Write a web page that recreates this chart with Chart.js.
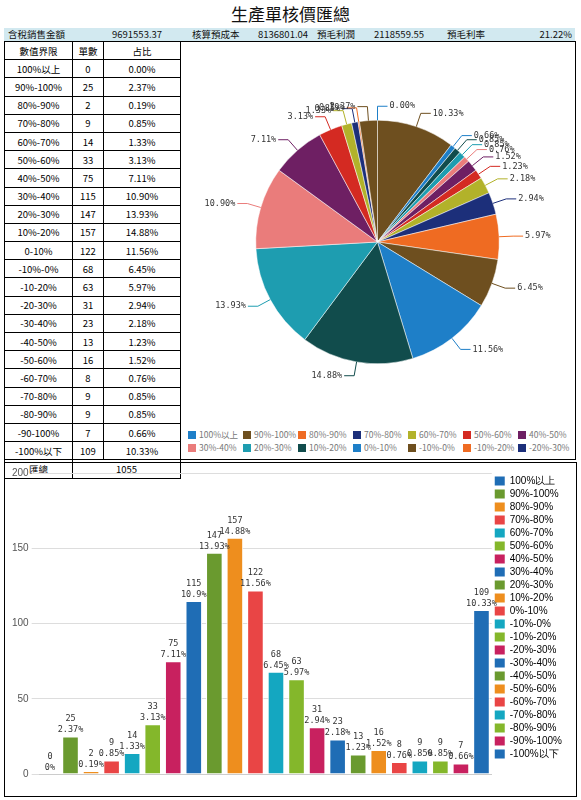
<!DOCTYPE html>
<html><head><meta charset="utf-8">
<script src="https://cdn.jsdelivr.net/npm/chart.js@4"></script>
<style>
body{margin:0;width:581px;height:800px;font-family:"Noto Sans CJK TC","Noto Sans",sans-serif;background:#fff;position:relative}
#title{position:absolute;left:0;width:581px;top:3px;text-align:center;font-size:17px;line-height:22px;color:#111}
#head{position:absolute;left:4px;top:28px;width:571px;height:13px;background:#d2e9f0;font-size:9.5px;line-height:13px;color:#111}
#head span{position:absolute;top:0}
#tbl{position:absolute;left:4px;top:41px;border-collapse:collapse;font-size:9.5px;table-layout:fixed}
#tbl td{border:1px solid #000;height:17.2px;line-height:12px;padding:0;text-align:center;overflow:hidden}
#pieBox{position:absolute;left:180px;top:41px;width:395px;height:417px;border:1px solid #000;border-left:none}
#pieLegend{position:absolute;left:8px;top:386px;width:385px;display:flex;flex-wrap:wrap;font-size:8.5px;color:#777;line-height:13px}
#pieLegend div{width:55px;white-space:nowrap}
#pieLegend i{display:inline-block;width:8px;height:8px;margin-right:3px;vertical-align:-1px}
#barBox{position:absolute;left:4px;top:462px;width:571px;height:333px;border:1px solid #000}
</style></head><body>
<div id="title">生產單核價匯總</div>
<div id="head">
<span style="left:4px">含稅銷售金額</span><span style="left:108px">9691553.37</span>
<span style="left:188px">核算預成本</span><span style="left:254px">8136801.04</span>
<span style="left:313px">預毛利潤</span><span style="left:370px">2118559.55</span>
<span style="left:443px">預毛利率</span><span style="right:3px">21.22%</span>
</div>
<table id="tbl"></table>
<div id="pieBox"><canvas id="pie" width="395" height="378"></canvas><div id="pieLegend"></div></div>
<div id="barBox"><canvas id="bar" width="571" height="333"></canvas></div>
<script>
const categories = ['100%以上','90%-100%','80%-90%','70%-80%','60%-70%','50%-60%','40%-50%','30%-40%','20%-30%','10%-20%','0-10%','-10%-0%','-10-20%','-20-30%','-30-40%','-40-50%','-50-60%','-60-70%','-70-80%','-80-90%','-90-100%','-100%以下'];
const legendNames = ['100%以上','90%-100%','80%-90%','70%-80%','60%-70%','50%-60%','40%-50%','30%-40%','20%-30%','10%-20%','0%-10%','-10%-0%','-10%-20%','-20%-30%','-30%-40%','-40%-50%','-50%-60%','-60%-70%','-70%-80%','-80%-90%','-90%-100%','-100%以下'];
const counts = [0,25,2,9,14,33,75,115,147,157,122,68,63,31,23,13,16,8,9,9,7,109];
const shares = ['0.00%','2.37%','0.19%','0.85%','1.33%','3.13%','7.11%','10.90%','13.93%','14.88%','11.56%','6.45%','5.97%','2.94%','2.18%','1.23%','1.52%','0.76%','0.85%','0.85%','0.66%','10.33%'];
const barShares = ['0%','2.37%','0.19%','0.85%','1.33%','3.13%','7.11%','10.9%','13.93%','14.88%','11.56%','6.45%','5.97%','2.94%','2.18%','1.23%','1.52%','0.76%','0.85%','0.85%','0.66%','10.33%'];
const total = 1055;
const yTicks = [0,50,100,150,200];

const pieCycle = ['#1e7fc8','#6e4f1f','#ef6b22','#1c2f7a','#b2b22a','#d42a22','#6e1f63','#ea7c7b','#1e9db0','#114c4c'];
const barCycle = ['#1f6db5','#6a9a2f','#ee8e1e','#e94545','#14a7c1','#84b72b','#c8215f'];
const pieColors = categories.map((c,i)=>pieCycle[i%10]);
const barColors = categories.map((c,i)=>barCycle[i%7]);

// table
let html = '<tr><td style="width:67px">數值界限</td><td style="width:30px">單數</td><td style="width:76px">占比</td></tr>';
categories.forEach((c,i)=>{ html += `<tr><td>${c}</td><td>${counts[i]}</td><td>${shares[i]}</td></tr>`; });
html += `<tr><td>匯總</td><td colspan="2">${total}</td></tr>`;
document.getElementById('tbl').innerHTML = html;

// pie legend (first 14 entries, as in the reference)
document.getElementById('pieLegend').innerHTML = legendNames.slice(0,14)
  .map((n,i)=>`<div><i style="background:${pieColors[i]}"></i>${n}</div>`).join('');

// pie (drawn counter-clockwise by reversing)
const rev = a => a.slice().reverse();
const pieLabels = {
  id:'pieLabels',
  afterDatasetsDraw(chart){
    const ctx = chart.ctx, meta = chart.getDatasetMeta(0);
    const txt = rev(shares);
    ctx.save();
    ctx.font = '8.5px "DejaVu Sans Mono", monospace';
    meta.data.forEach((arc,i)=>{
      const a = (arc.startAngle+arc.endAngle)/2, r = arc.outerRadius;
      const x0 = arc.x+Math.cos(a)*r, y0 = arc.y+Math.sin(a)*r;
      const x1 = arc.x+Math.cos(a)*(r+14), y1 = arc.y+Math.sin(a)*(r+14);
      const right = Math.cos(a) >= 0;
      const x2 = x1 + (right?10:-10);
      ctx.strokeStyle = chart.data.datasets[0].backgroundColor[i];
      ctx.lineWidth = 1;
      ctx.beginPath(); ctx.moveTo(x0,y0); ctx.lineTo(x1,y1); ctx.lineTo(x2,y1); ctx.stroke();
      ctx.fillStyle = '#333';
      ctx.textAlign = right?'left':'right'; ctx.textBaseline='middle';
      ctx.fillText(txt[i], x2+(right?2:-2), y1);
    });
    ctx.restore();
  }
};
new Chart(document.getElementById('pie'), {
  type:'pie',
  data:{ labels: rev(legendNames), datasets:[{ data: rev(counts), backgroundColor: rev(pieColors), borderColor:'#fff', borderWidth:0.5 }] },
  options:{
    responsive:false, animation:false,
    layout:{ padding:{ top:78, bottom:56, left:50, right:50 } },
    plugins:{ tooltip:{enabled:false}, legend:{display:false} }
  },
  plugins:[pieLabels]
});

// bars
const barLabels = {
  id:'barLabels',
  afterDatasetsDraw(chart){
    const ctx = chart.ctx, meta = chart.getDatasetMeta(0);
    ctx.save();
    ctx.font = '8.5px "DejaVu Sans Mono", monospace';
    ctx.fillStyle = '#333'; ctx.textAlign='center'; ctx.textBaseline='bottom';
    meta.data.forEach((b,i)=>{
      ctx.fillText(String(counts[i]), b.x, b.y-13);
      ctx.fillText(barShares[i], b.x, b.y-2);
    });
    ctx.restore();
  }
};
new Chart(document.getElementById('bar'), {
  type:'bar',
  data:{ labels: legendNames, datasets:[{ data: counts, backgroundColor: barColors, borderColor:'#fff', borderWidth:1, categoryPercentage:0.95, barPercentage:0.85 }] },
  options:{
    responsive:false, animation:false,
    layout:{ padding:{ top:10, bottom:14, left:4, right:4 } },
    scales:{
      x:{ grid:{display:false}, ticks:{display:false}, border:{color:'#ccc'} },
      y:{ min:0, max:200, afterBuildTicks: s => { s.ticks = yTicks.map(v=>({value:v})); },
          ticks:{ font:{size:10}, color:'#555' }, grid:{ color:'#ddd' }, border:{display:false} }
    },
    plugins:{
      tooltip:{enabled:false},
      legend:{ position:'right', align:'start', labels:{ boxWidth:10, boxHeight:9, padding:3, font:{size:10, lineHeight:1}, color:'#333',
        generateLabels: () => legendNames.map((n,i)=>({ text:n, fillStyle:barColors[i], strokeStyle:barColors[i], lineWidth:0, hidden:false, index:i })) } }
    }
  },
  plugins:[barLabels]
});
</script>
</body></html>
